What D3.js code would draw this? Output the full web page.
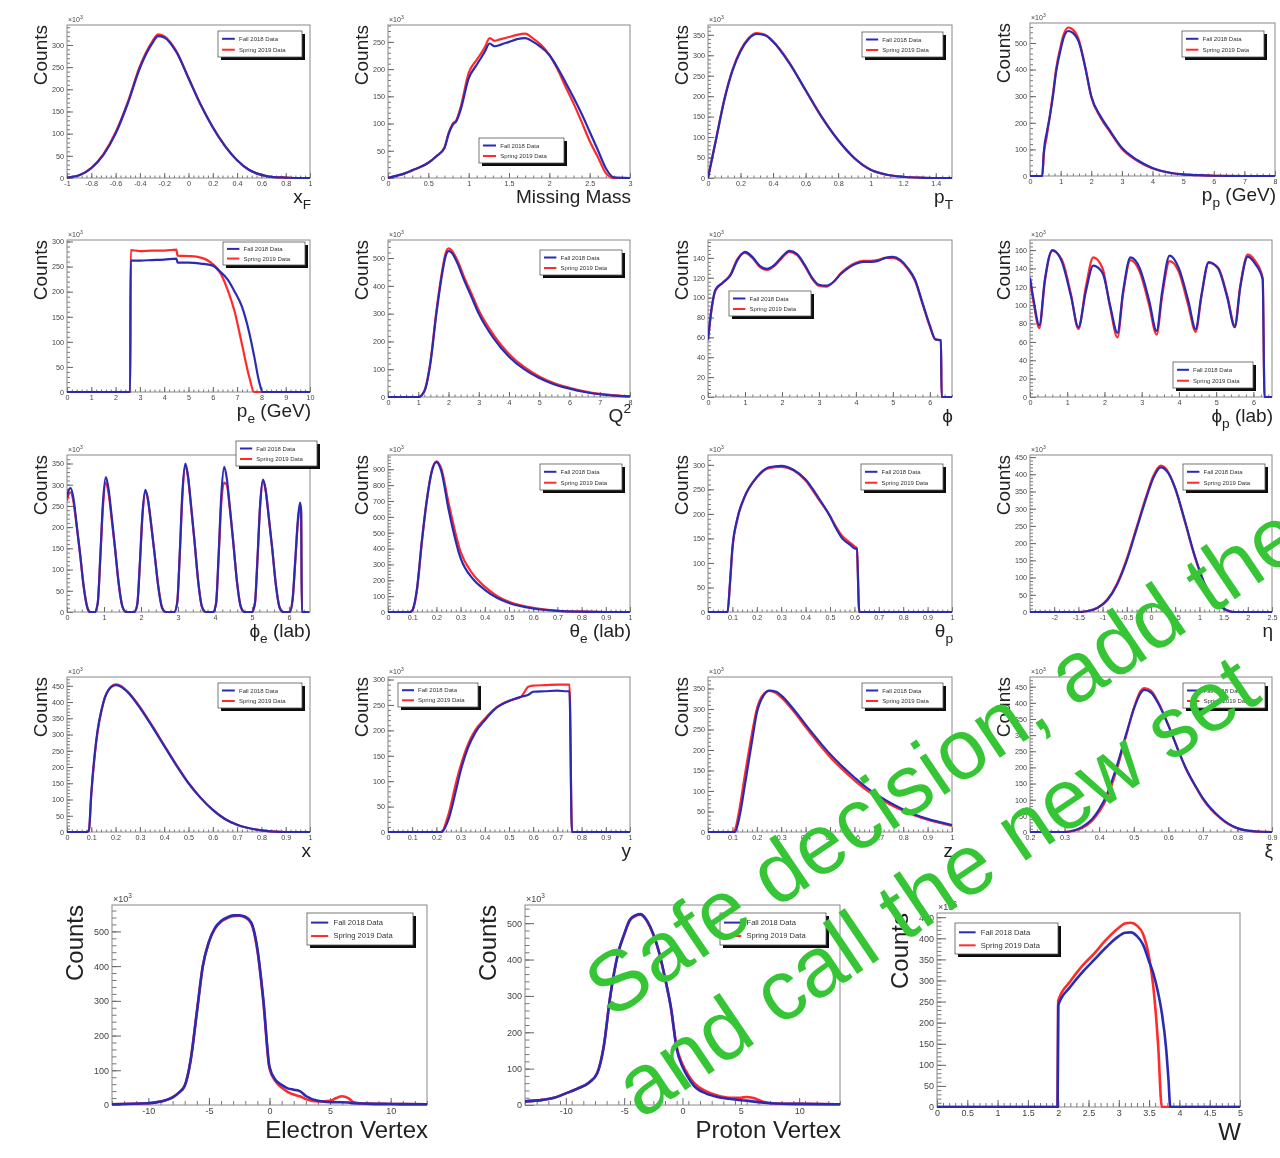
<!DOCTYPE html>
<html>
<head>
<meta charset="utf-8">
<script src="https://cdn.jsdelivr.net/npm/d3@7"></script>
<style>
  body { margin: 0; background: #fff; }
  text { font-family: "Liberation Sans", Arial, Helvetica, sans-serif; }
</style>
</head>
<body>
<svg id="canvas"></svg>
<script>
// ---- data (counts in units of 10^3) ----
const seriesNames = ["Fall 2018 Data", "Spring 2019 Data"];
const watermark = ["Safe decision, add the", "and call the new set"];

// x_F
const xfBins   = [-1,-0.9,-0.8,-0.7,-0.6,-0.5,-0.4,-0.3,-0.25,-0.2,-0.1,0,0.1,0.2,0.3,0.4,0.5,0.6,0.7,0.8,0.9,1];
const xfFall   = [1,6,22,52,100,168,248,303,320,317,284,225,165,114,72,40,18,7,2,1,0,0];
const xfSpring = [1,6,23,54,103,171,252,307,324,320,286,226,166,115,73,40,18,7,2,1,0,0];
const xfTicks  = [-1,-0.8,-0.6,-0.4,-0.2,0,0.2,0.4,0.6,0.8,1];

// missing mass
const mmBins   = [0,0.1,0.2,0.3,0.4,0.5,0.6,0.7,0.75,0.8,0.85,0.9,1.0,1.1,1.2,1.26,1.32,1.4,1.5,1.6,1.7,1.8,1.9,2.0,2.1,2.2,2.3,2.4,2.5,2.6,2.7,2.8,3.0];
const mmFall   = [0,4,8,14,20,28,40,55,80,97,105,125,183,208,232,247,242,245,250,255,257,250,240,226,203,176,148,118,85,52,18,1,0];
const mmSpring = [0,4,8,14,20,28,40,56,82,99,107,130,193,217,240,257,252,255,259,263,265,256,244,226,200,168,137,103,68,39,9,0,0];
const mmTicks  = [0,0.5,1,1.5,2,2.5,3];

// p_T
const ptBins   = [0,0.05,0.1,0.15,0.2,0.25,0.3,0.35,0.4,0.5,0.6,0.7,0.8,0.9,1.0,1.1,1.2,1.3,1.4,1.5];
const ptFall   = [0,95,190,262,310,340,352,349,333,281,215,149,93,49,20,8,3,1,0,0];
const ptSpring = [0,96,192,264,312,342,354,350,334,282,214,148,92,48,20,8,3,1,0,0];
const ptTicks  = [0,0.2,0.4,0.6,0.8,1,1.2,1.4];

// p_p
const ppBins   = [0,0.4,0.45,0.55,0.65,0.75,0.85,1.0,1.1,1.25,1.4,1.6,1.8,2.0,2.3,2.6,3.0,3.5,4.0,4.5,5.0,5.5,6,7,8];
const ppFall   = [0,0,90,165,225,300,390,475,520,545,538,502,410,300,225,172,106,60,30,14,6,3,1,0,0];
const ppSpring = [0,0,80,150,230,310,400,488,532,558,550,510,412,298,220,168,102,57,28,13,6,3,1,0,0];
const ppTicks  = [0,1,2,3,4,5,6,7,8];

// p_e
const peBins   = [0,2.6,2.62,3,3.5,4,4.5,4.55,5,5.5,6,6.3,6.6,6.9,7.2,7.5,7.7,7.9,8.05,8.2,10];
const peFall   = [0,0,262,262,263,264,266,258,258,256,252,240,225,200,170,118,72,22,0,0,0];
const peSpring = [0,0,283,281,282,282,284,272,271,268,255,238,205,160,95,30,0,0,0,0,0];
const peTicks  = [0,1,2,3,4,5,6,7,8,9,10];

// Q^2
const q2Bins   = [0,1.0,1.2,1.4,1.6,1.8,1.9,2.0,2.1,2.3,2.5,2.8,3.0,3.5,4.0,4.5,5,5.5,6,6.5,7,7.5,8];
const q2Fall   = [0,0,20,120,300,450,505,525,520,480,425,350,300,210,145,100,68,45,30,18,10,5,2];
const q2Spring = [0,0,22,125,310,460,515,535,528,490,436,362,312,222,155,108,74,49,33,20,11,6,2];
const q2Ticks  = [0,1,2,3,4,5,6,7,8];

// phi
const phBins   = [0,0.1,0.2,0.4,0.6,0.8,1.0,1.2,1.4,1.6,1.8,2.0,2.2,2.4,2.6,2.8,3.0,3.2,3.4,3.6,3.8,4.0,4.2,4.4,4.6,4.8,5.0,5.2,5.4,5.6,5.8,6.0,6.15,6.3,6.32,6.6];
const phFall   = [58,90,108,115,122,138,146,141,132,129,133,141,147,144,134,121,113,112,116,124,130,134,136,136,137,140,141,138,130,118,95,72,58,57,0,0];
const phSpring = [57,89,107,115,123,139,145,140,131,128,132,140,146,143,133,120,112,111,116,125,131,135,137,137,138,140,140,137,129,117,94,71,58,57,0,0];
const angTicks = [0,1,2,3,4,5,6];

// phi_p (lab)
const fpBins   = [0,0.1,0.25,0.4,0.6,0.85,1.1,1.3,1.5,1.7,1.95,2.15,2.35,2.5,2.7,2.95,3.2,3.4,3.55,3.75,4.0,4.25,4.45,4.6,4.8,5.05,5.3,5.5,5.65,5.85,6.05,6.25,6.3,6.5];
const fpFall   = [130,105,78,128,160,148,110,76,115,143,135,100,70,115,152,140,105,72,115,154,140,105,74,110,147,140,108,76,120,153,145,128,0,0];
const fpSpring = [128,102,75,126,159,150,112,74,120,152,140,98,65,112,149,136,100,68,110,148,136,100,71,108,146,141,110,78,122,155,148,130,0,0];

// phi_e (lab)
const feBins   = [0,0.05,0.1,0.17,0.25,0.35,0.45,0.55,0.62,
                  0.75,0.83,0.9,0.97,1.05,1.12,1.2,1.3,1.4,1.5,1.6,
                  1.82,1.9,1.97,2.04,2.12,2.19,2.27,2.37,2.47,2.57,2.67,
                  2.9,2.98,3.05,3.12,3.2,3.27,3.35,3.45,3.55,3.65,3.75,
                  3.95,4.03,4.1,4.17,4.25,4.32,4.4,4.5,4.6,4.7,4.8,
                  5.0,5.08,5.15,5.22,5.3,5.37,5.45,5.55,5.65,5.75,5.85,
                  6.02,6.1,6.17,6.24,6.3,6.33,6.35,6.55];
const feFall   = [270,288,292,270,215,140,60,10,0,
                  0,20,130,255,318,292,232,150,65,12,0,
                  0,18,115,230,288,265,210,135,58,10,0,
                  0,22,140,280,350,322,255,165,70,12,0,
                  0,20,135,272,342,315,250,160,68,12,0,
                  0,20,125,250,312,288,228,148,62,10,0,
                  0,30,120,215,258,240,0,0];
const feSpring = [262,278,282,262,210,140,62,11,0,
                  0,20,125,245,305,282,225,148,66,13,0,
                  0,18,112,226,285,263,210,136,60,11,0,
                  0,22,138,275,345,318,252,164,70,12,0,
                  0,20,130,255,305,300,245,160,68,12,0,
                  0,20,124,248,310,287,228,148,62,10,0,
                  0,30,116,208,250,235,0,0];

// theta_e (lab)
const teBins   = [0,0.09,0.1,0.12,0.14,0.16,0.18,0.2,0.22,0.25,0.3,0.35,0.4,0.45,0.5,0.6,0.7,0.8,0.9,1.0];
const teFall   = [0,0,10,150,450,700,880,945,890,650,340,210,140,90,57,22,7,2,0,0];
const teSpring = [0,0,8,140,440,700,885,950,905,690,380,240,160,102,64,26,8,2,0,0];
const unitTicks = [0,0.1,0.2,0.3,0.4,0.5,0.6,0.7,0.8,0.9,1];

// theta_p
const tpBins   = [0,0.08,0.09,0.1,0.12,0.15,0.2,0.25,0.3,0.35,0.4,0.45,0.5,0.52,0.55,0.58,0.6,0.61,0.62,1.0];
const tpFall   = [0,0,60,130,190,235,275,295,298,290,270,235,195,175,150,138,130,128,0,0];
const tpSpring = [0,0,55,128,188,234,274,293,296,289,268,232,196,178,155,142,134,130,0,0];

// eta
const etaBins   = [-2.5,-1.5,-1.3,-1.1,-0.9,-0.7,-0.5,-0.3,-0.1,0.05,0.2,0.35,0.5,0.7,0.9,1.1,1.3,1.5,1.7,2.5];
const etaFall   = [0,0,3,12,35,80,150,240,330,390,420,405,360,265,165,85,35,10,0,0];
const etaSpring = [0,0,3,13,37,83,155,245,336,396,425,408,358,262,162,83,34,10,0,0];
const etaTicks  = [-2,-1.5,-1,-0.5,0,0.5,1,1.5,2,2.5];

// x (Bjorken)
const xbBins   = [0,0.08,0.09,0.1,0.12,0.15,0.18,0.2,0.22,0.25,0.3,0.35,0.4,0.45,0.5,0.55,0.6,0.65,0.7,0.8,0.9,1.0];
const xbFall   = [0,0,5,120,280,400,445,452,448,430,382,325,265,205,150,105,68,40,22,5,0,0];
const xbSpring = [0,0,4,115,275,398,446,454,450,432,385,328,267,207,151,105,68,40,22,5,0,0];

// y
const yBins   = [0,0.22,0.25,0.28,0.3,0.33,0.36,0.4,0.45,0.5,0.55,0.58,0.6,0.65,0.7,0.74,0.75,0.76,1.0];
const yFall   = [0,0,25,80,120,165,195,220,245,258,266,270,276,277,278,277,277,0,0];
const ySpring = [0,0,35,95,130,172,200,223,246,258,266,286,288,289,290,290,290,0,0];

// z
const zBins   = [0,0.1,0.11,0.13,0.15,0.18,0.2,0.23,0.25,0.28,0.3,0.35,0.4,0.45,0.5,0.55,0.6,0.65,0.7,0.75,0.8,0.85,0.9,0.95,1.0];
const zFall   = [0,0,0,40,110,220,290,335,345,342,333,300,262,225,190,160,133,108,88,70,55,42,32,24,17];
const zSpring = [0,0,5,60,135,240,300,338,344,338,328,295,256,218,183,153,126,102,83,66,52,40,30,22,15];

// xi
const xiBins   = [0.2,0.3,0.35,0.38,0.4,0.42,0.45,0.48,0.5,0.52,0.53,0.55,0.57,0.6,0.63,0.65,0.68,0.7,0.75,0.8,0.85,0.9];
const xiFall   = [0,0,15,40,70,110,200,310,380,430,440,432,400,330,250,200,140,105,45,12,2,0];
const xiSpring = [0,0,12,35,62,100,190,305,383,437,446,438,404,332,250,198,138,102,43,11,2,0];
const xiTicks  = [0.2,0.3,0.4,0.5,0.6,0.7,0.8,0.9];

// electron vertex
const elBins   = [-13,-10,-9,-8,-7.5,-7,-6.5,-6,-5.5,-5,-4.5,-4,-3.5,-3,-2.5,-2,-1.5,-1,-0.5,0,0.5,1,1.5,2,2.5,3,4,5,5.5,6,6.5,7,8,10,13];
const elFall   = [2,5,10,22,35,55,130,265,400,470,510,530,540,546,546,542,525,450,300,110,72,58,48,44,40,26,12,8,8,8,7,5,4,3,2];
const elSpring = [2,5,10,22,35,56,132,268,402,470,508,528,538,544,545,540,522,445,295,105,68,50,38,30,25,17,10,12,20,25,20,7,4,3,2];
const vtxTicks = [-10,-5,0,5,10];

// proton vertex
const prBins   = [-13.5,-12,-11,-10,-9,-8,-7.3,-6.75,-6.2,-5.5,-5,-4.5,-4,-3.6,-3,-2.5,-2,-1.5,-1,-0.5,0,0.5,1,2,3,4,5,5.5,6,7,8,10,13.5];
const prFall   = [10,14,20,32,45,62,88,160,297,420,470,510,522,525,505,470,420,350,270,155,105,75,52,32,22,17,13,12,10,6,4,3,2];
const prSpring = [10,14,20,32,45,62,89,162,298,420,468,508,520,523,503,468,418,348,268,160,112,82,60,38,26,20,20,22,20,8,4,3,2];

// W
const wBins   = [0,1.99,2.0,2.2,2.4,2.6,2.8,3.0,3.1,3.2,3.3,3.4,3.5,3.57,3.65,3.71,3.78,3.82,3.85,5];
const wFall   = [0,0,241,285,320,350,380,405,413,414,405,385,345,317,270,223,140,64,0,0];
const wSpring = [0,0,252,298,335,365,398,425,435,437,430,410,355,285,145,0,0,0,0,0];
const wTicks  = [0,0.5,1,1.5,2,2.5,3,3.5,4,4.5,5];

// y tick sets
const yT250 = [0,50,100,150,200,250];
const yT300 = [0,50,100,150,200,250,300];
const yT350 = [0,50,100,150,200,250,300,350];
const yT450 = [0,50,100,150,200,250,300,350,400,450];
const yT500 = [0,100,200,300,400,500];
const yT900 = [0,100,200,300,400,500,600,700,800,900];
const yT140 = [0,20,40,60,80,100,120,140];
const yT160 = [0,20,40,60,80,100,120,140,160];

// ---- layout ----
const panels = [
  {bins: xfBins, fall: xfFall, spring: xfSpring, xd: [-1,1], xt: xfTicks, ymax: 345, yt: yT300, title: [["x"],["F","sub"]], frame: [67,25,310,178], leg: [218,31,84,26]},
  {bins: mmBins, fall: mmFall, spring: mmSpring, xd: [0,3], xt: mmTicks, ymax: 281, yt: yT250, title: [["Missing Mass"]], frame: [388,25,630,178], leg: [479,138,85,25]},
  {bins: ptBins, fall: ptFall, spring: ptSpring, xd: [0,1.5], xt: ptTicks, ymax: 374, yt: yT350, title: [["p"],["T","sub"]], frame: [708,25,952,178], leg: [862,32,81,25]},
  {bins: ppBins, fall: ppFall, spring: ppSpring, xd: [0,8], xt: ppTicks, ymax: 575, yt: yT500, title: [["p"],["p","sub"],[" (GeV)"]], frame: [1030,23,1275,176], leg: [1182,31,82,26]},
  {bins: peBins, fall: peFall, spring: peSpring, xd: [0,10], xt: peTicks, ymax: 303, yt: yT300, title: [["p"],["e","sub"],[" (GeV)"]], frame: [67,240,310,392], leg: [223,242,82,23]},
  {bins: q2Bins, fall: q2Fall, spring: q2Spring, xd: [0,8], xt: q2Ticks, ymax: 565, yt: yT500, title: [["Q"],["2","sup"]], frame: [388,240,630,397], leg: [540,250,82,25]},
  {bins: phBins, fall: phFall, spring: phSpring, xd: [0,6.6], xt: angTicks, ymax: 158, yt: yT140, title: [["ϕ"]], frame: [708,240,952,397], leg: [729,291,82,25]},
  {bins: fpBins, fall: fpFall, spring: fpSpring, xd: [0,6.5], xt: angTicks, ymax: 171, yt: yT160, title: [["ϕ"],["p","sub"],[" (lab)"]], frame: [1030,240,1272,397], leg: [1173,362,80,26]},
  {bins: feBins, fall: feFall, spring: feSpring, xd: [0,6.57], xt: angTicks, ymax: 370, yt: yT350, title: [["ϕ"],["e","sub"],[" (lab)"]], frame: [67,455,310,612], leg: [236,441,81,25]},
  {bins: teBins, fall: teFall, spring: teSpring, xd: [0,1], xt: unitTicks, ymax: 990, yt: yT900, title: [["θ"],["e","sub"],[" (lab)"]], frame: [388,455,630,612], leg: [540,464,82,26]},
  {bins: tpBins, fall: tpFall, spring: tpSpring, xd: [0,1], xt: unitTicks, ymax: 320, yt: yT300, title: [["θ"],["p","sub"]], frame: [708,455,952,612], leg: [861,464,82,26]},
  {bins: etaBins, fall: etaFall, spring: etaSpring, xd: [-2.5,2.5], xt: etaTicks, ymax: 456, yt: yT450, title: [["η"]], frame: [1030,455,1272,612], leg: [1183,464,82,26]},
  {bins: xbBins, fall: xbFall, spring: xbSpring, xd: [0,1], xt: unitTicks, ymax: 477, yt: yT450, title: [["x"]], frame: [67,677,310,832], leg: [218,683,84,25]},
  {bins: yBins, fall: yFall, spring: ySpring, xd: [0,1], xt: unitTicks, ymax: 305, yt: yT300, title: [["y"]], frame: [388,677,630,832], leg: [398,683,80,24]},
  {bins: zBins, fall: zFall, spring: zSpring, xd: [0,1], xt: unitTicks, ymax: 378, yt: yT350, title: [["z"]], frame: [708,677,952,832], leg: [862,683,81,25]},
  {bins: xiBins, fall: xiFall, spring: xiSpring, xd: [0.2,0.9], xt: xiTicks, ymax: 480, yt: yT450, title: [["ξ"]], frame: [1030,677,1272,832], leg: [1183,683,82,25]},
  {bins: elBins, fall: elFall, spring: elSpring, xd: [-13,13], xt: vtxTicks, ymax: 576, yt: yT500, title: [["Electron Vertex"]], frame: [112,905,427,1105], leg: [307,913,106,32], big: true},
  {bins: prBins, fall: prFall, spring: prSpring, xd: [-13.5,13.5], xt: vtxTicks, ymax: 550, yt: yT500, title: [["Proton Vertex"]], frame: [525,905,840,1105], leg: [720,913,106,32], big: true},
  {bins: wBins, fall: wFall, spring: wSpring, xd: [0,5], xt: wTicks, ymax: 460, yt: yT450, title: [["W"]], frame: [937,913,1240,1107], leg: [955,923,103,31], big: true}
];

const colors = ["#2b2bb5", "#ff2b2b"]; // fall, spring

const svg = d3.select("#canvas").attr("width", 1280).attr("height", 1158);
const defs = svg.append("defs");
defs.append("filter").attr("id", "soft")
  .append("feGaussianBlur").attr("stdDeviation", 0.45);

const fmt = d => String(Math.round(d * 1000) / 1000);

// text with sub/superscripts, e.g. [["p"],["T","sub"]]
function richText(sel, parts, size) {
  let cur = 0;
  parts.forEach(([s, k]) => {
    const off = k === "sub" ? size * 0.32 : k === "sup" ? -size * 0.45 : 0;
    sel.append("tspan")
      .attr("dy", off - cur)
      .attr("font-size", k ? size * 0.72 : size)
      .text(s);
    cur = off;
  });
}

panels.forEach((p, idx) => {
  const [x0, y0, x1, y1] = p.frame;
  const big = !!p.big;
  const g = svg.append("g").attr("filter", "url(#soft)");

  const x = d3.scaleLinear().domain(p.xd).range([x0, x1]);
  const y = d3.scaleLinear().domain([0, p.ymax]).range([y1, y0]);

  // minor ticks
  const xStep = p.xt[1] - p.xt[0];
  const xMinor = d3.range(p.xd[0], p.xd[1] + 1e-9, xStep / 5);
  const yStep = p.yt[1] - p.yt[0];
  const yMinor = d3.range(0, p.ymax, yStep / 5);
  const labelSize = big ? 9 : 7.2;

  g.append("g").attr("transform", `translate(0,${y1})`)
    .call(d3.axisBottom(x).tickValues(xMinor).tickSize(big ? -4 : -2.5).tickFormat(""))
    .call(a => a.select(".domain").remove())
    .call(a => a.selectAll("line").attr("stroke", "#777"));
  g.append("g").attr("transform", `translate(0,${y1})`)
    .call(d3.axisBottom(x).tickValues(p.xt).tickSize(big ? -7 : -5).tickPadding(3).tickFormat(fmt))
    .call(a => a.select(".domain").remove())
    .call(a => a.selectAll("line").attr("stroke", "#666"))
    .call(a => a.selectAll("text").attr("font-size", labelSize).attr("fill", "#444")
      .attr("font-family", "Liberation Sans, Arial, sans-serif"));

  g.append("g").attr("transform", `translate(${x0},0)`)
    .call(d3.axisLeft(y).tickValues(yMinor).tickSize(big ? -4.5 : -3).tickFormat(""))
    .call(a => a.select(".domain").remove())
    .call(a => a.selectAll("line").attr("stroke", "#777"));
  g.append("g").attr("transform", `translate(${x0},0)`)
    .call(d3.axisLeft(y).tickValues(p.yt).tickSize(big ? -9 : -6).tickPadding(3).tickFormat(fmt))
    .call(a => a.select(".domain").remove())
    .call(a => a.selectAll("line").attr("stroke", "#666"))
    .call(a => a.selectAll("text").attr("font-size", labelSize).attr("fill", "#444")
      .attr("font-family", "Liberation Sans, Arial, sans-serif"));

  // frame
  g.append("rect").attr("x", x0).attr("y", y0)
    .attr("width", x1 - x0).attr("height", y1 - y0)
    .attr("fill", "none").attr("stroke", "#888").attr("stroke-width", 1);

  // histograms
  const clipId = "clip" + idx;
  defs.append("clipPath").attr("id", clipId)
    .append("rect").attr("x", x0).attr("y", y0 - 2).attr("width", x1 - x0 + 1).attr("height", y1 - y0 + 3);
  const line = d3.line().x(d => x(d[0])).y(d => y(d[1])).curve(d3.curveMonotoneX);
  const lines = g.append("g").attr("clip-path", `url(#${clipId})`);
  lines.append("path").datum(d3.zip(p.bins, p.spring))
    .attr("d", line).attr("fill", "none").attr("stroke", colors[1]).attr("stroke-width", big ? 2.6 : 2.2);
  lines.append("path").datum(d3.zip(p.bins, p.fall))
    .attr("d", line).attr("fill", "none").attr("stroke", colors[0]).attr("stroke-width", big ? 2.6 : 2.2);

  // multiplier
  const mult = g.append("text").attr("x", x0 + 1).attr("y", y0 - 3).attr("fill", "#444");
  richText(mult, [["×10"], ["3", "sup"]], big ? 9 : 7);

  // legend
  const [lx, ly, lw, lh] = p.leg;
  g.append("rect").attr("x", lx + 3).attr("y", ly + 3).attr("width", lw).attr("height", lh).attr("fill", "#111");
  g.append("rect").attr("x", lx).attr("y", ly).attr("width", lw).attr("height", lh)
    .attr("fill", "#fff").attr("stroke", "#555").attr("stroke-width", 0.8);
  seriesNames.forEach((name, i) => {
    const cy = ly + lh * (i === 0 ? 0.3 : 0.72);
    g.append("line").attr("x1", lx + 4).attr("x2", lx + lw * 0.2).attr("y1", cy).attr("y2", cy)
      .attr("stroke", colors[i]).attr("stroke-width", 2);
    g.append("text").attr("x", lx + lw * 0.25).attr("y", cy + 2.2)
      .attr("font-size", big ? 7.6 : 6).attr("fill", "#333").text(name);
  });

  // axis titles
  const ts = big ? 24 : 19;
  const cx = x0 - (big ? 38 : 27);
  g.append("text")
    .attr("transform", `translate(${cx + ts * 0.36},${y0}) rotate(-90)`)
    .attr("text-anchor", "end").attr("font-size", ts).attr("fill", "#222")
    .text("Counts");
  const xt = g.append("text").attr("x", x1 + 1).attr("y", y1 + (big ? 33 : 25))
    .attr("text-anchor", "end").attr("fill", "#222");
  richText(xt, p.title, ts);
});

// overlay text (first line runs off the right edge, as in the original)
const wm = svg.append("g").attr("fill", "#35c535").attr("font-size", 85)
  .attr("font-family", "Liberation Sans, Arial, sans-serif");
wm.append("text").attr("transform", "translate(611,1020) rotate(-34)").text(watermark[0]);
wm.append("text").attr("transform", "translate(641,1120) rotate(-34)").text(watermark[1]);
</script>
</body>
</html>
